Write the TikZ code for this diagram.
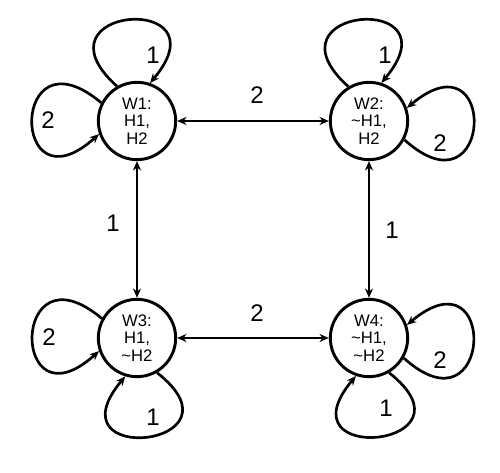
\documentclass[tikz,border=0pt]{standalone}
\usepackage{fontspec}
\setmainfont{Liberation Sans}
\usetikzlibrary{arrows.meta, positioning, calc}
\tikzset{
  % World state: plain circle with three short lines.
  world/.style={
    circle, draw=black, line width=2.2pt,
    minimum size=58pt, inner sep=0pt,
    align=center,
    font=\fontsize{12.5}{13}\selectfont,
  },
  % Arrows between and around states.
  flow/.style={
    -{Stealth[length=7pt, width=6pt]},
    line width=2pt,
  },
  flow-both/.style={
    {Stealth[length=7pt, width=6pt]}-{Stealth[length=7pt, width=6pt]},
    line width=2pt,
  },
  % Agent numbers on the arrows.
  agent-label/.style={font=\fontsize{18}{20}\selectfont, inner sep=0pt},
}
\begin{document}
\begin{tikzpicture}[x=0.75pt, y=0.75pt]
  \useasboundingbox (0,0) rectangle (500,473);

  % The four worlds.
  \node[world] (w1) at (137, 352) {W1:\\H1,\\H2};
  \node[world] (w2) at (369, 352) {W2:\\\textasciitilde H1,\\H2};
  \node[world] (w3) at (137, 135) {W3:\\H1,\\\textasciitilde H2};
  \node[world] (w4) at (369, 135) {W4:\\\textasciitilde H1,\\\textasciitilde H2};

  % Links between worlds.
  \draw[flow-both] (w1) -- (w2);
  \draw[flow-both] (w3) -- (w4);
  \draw[flow-both] (w1) -- (w3);
  \draw[flow-both] (w2) -- (w4);
  \node[agent-label] (top2) at (257, 378) {2};
  \node[agent-label] (bot2) at (257, 160) {2};
  \node[agent-label] (lft1) at (113, 250) {1};
  \node[agent-label] (rgt1) at (392, 243) {1};

  % Self loops, agent 1.
  \draw[flow] (w1.120) .. controls +(138:120) and +(50:120) .. (w1.71);
  \draw[flow] (w2.121) .. controls +(138:120) and +(50:120) .. (w2.72);
  \draw[flow] (w3.300) .. controls +(322:120) and +(230:120) .. (w3.253);
  \draw[flow] (w4.300) .. controls +(322:120) and +(230:120) .. (w4.251);
  \node[agent-label] (w1a) at (153, 418) {1};
  \node[agent-label] (w2a) at (385, 418) {1};
  \node[agent-label] (w3a) at (153, 56) {1};
  \node[agent-label] (w4a) at (386, 65) {1};

  % Self loops, agent 2.
  \draw[flow] (w1.153) .. controls +(140:120) and +(222:120) .. (w1.199);
  \draw[flow] (w3.151) .. controls +(140:120) and +(222:120) .. (w3.199);
  \draw[flow] (w2.332) .. controls +(318:120) and +(40:120) .. (w2.19);
  \draw[flow] (w4.330) .. controls +(318:120) and +(40:120) .. (w4.19);
  \node[agent-label] (w1b) at (48, 353) {2};
  \node[agent-label] (w3b) at (49, 136) {2};
  \node[agent-label] (w2b) at (440, 330) {2};
  \node[agent-label] (w4b) at (440, 113) {2};

\end{tikzpicture}
\end{document}
